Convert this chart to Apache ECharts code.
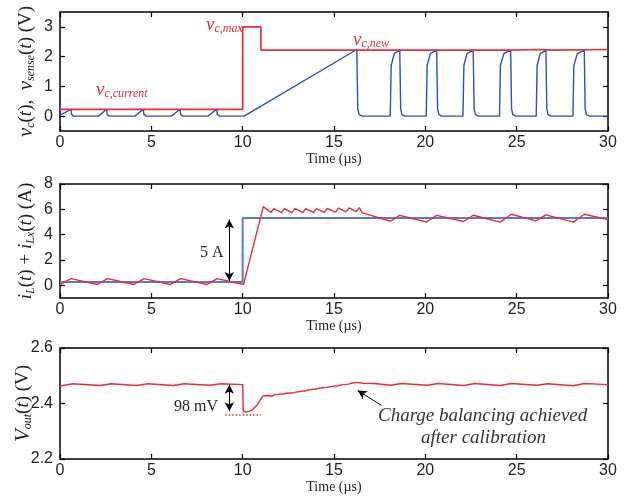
<!DOCTYPE html>
<html>
<head>
<meta charset="utf-8">
<script src="https://cdn.jsdelivr.net/npm/echarts@6/dist/echarts.min.js"></script>
<style>html,body{margin:0;padding:0;background:#fff;}#c{width:633px;height:500px;}</style>
</head>
<body>
<div id="c"></div>
<script>
// ---- data (time in µs) ----
const xTicks = [0, 5, 10, 15, 20, 25, 30];
const topYTicks = [0, 1, 2, 3];
const midYTicks = [0, 2, 4, 6, 8];
const botYTicks = [2.2, 2.4, 2.6];

const vcTime = [0, 10, 10, 11, 11, 24.5, 24.5, 26.3, 26.3, 27, 27, 30];
const vcVal  = [0.23, 0.23, 3.0, 3.0, 2.22, 2.22, 2.24, 2.24, 2.22, 2.22, 2.24, 2.24];

const vsTime = [0, 0.6, 0.63, 0.75, 2.1, 2.55, 2.58, 2.7, 4.1, 4.56, 4.59, 4.71, 6.1, 6.57, 6.6, 6.72, 8.1, 8.58, 8.61, 8.73, 10.08,
  16.25, 16.3, 16.38, 16.55,
  18.08, 18.13, 18.3, 18.6, 18.65, 18.72, 18.88,
  20.05, 20.1, 20.27, 20.62, 20.67, 20.74, 20.9,
  22.06, 22.11, 22.28, 22.62, 22.67, 22.74, 22.9,
  24.06, 24.11, 24.3, 24.67, 24.72, 24.79, 24.95,
  26.07, 26.12, 26.29, 26.6, 26.65, 26.72, 26.88,
  28.08, 28.13, 28.32, 28.7, 28.75, 28.82, 28.98, 30];
const vsVal = [0.03, 0.23, 0.06, 0, 0, 0.23, 0.06, 0, 0, 0.23, 0.06, 0, 0, 0.23, 0.06, 0, 0, 0.23, 0.06, 0, 0,
  2.24, 0.25, 0.05, 0,
  0, 1.7, 2.1, 2.22, 0.25, 0.05, 0,
  0, 1.7, 2.1, 2.22, 0.25, 0.05, 0,
  0, 1.7, 2.1, 2.22, 0.25, 0.05, 0,
  0, 1.7, 2.1, 2.22, 0.25, 0.05, 0,
  0, 1.7, 2.1, 2.22, 0.25, 0.05, 0,
  0, 1.7, 2.1, 2.22, 0.25, 0.05, 0, 0];

const iLTime = [0, 0.6, 2.05, 2.6, 4.05, 4.6, 6.05, 6.6, 8.05, 8.6, 10.05, 11.13,
  11.55, 11.7, 12.13, 12.28, 12.7, 12.86, 13.3, 13.45, 13.88, 14.03, 14.48, 14.63, 15.08, 15.24, 15.67, 15.82, 16.22, 16.38,
  16.55, 16.7, 18.1, 18.6, 20.07, 20.62, 22.1, 22.62, 24.1, 24.7, 26.05, 26.6, 28.1, 28.7, 30];
const iLVal = [0.05, 0.53, 0.07, 0.53, 0.07, 0.53, 0.07, 0.53, 0.07, 0.53, 0.07, 6.21,
  5.75, 6.05, 5.74, 6.05, 5.74, 6.05, 5.74, 6.05, 5.75, 6.05, 5.76, 6.07, 5.78, 6.1, 5.8, 6.12, 5.82, 6.13,
  5.72, 5.66, 5.06, 5.52, 5.0, 5.52, 5.04, 5.53, 4.99, 5.61, 5.09, 5.56, 4.99, 5.61, 5.19];

const iLxTime = [0, 10, 10, 30];
const iLxVal  = [0.27, 0.27, 5.31, 5.31];

const voTime = [0, 0.7, 2.2, 2.8, 4.2, 4.8, 6.2, 6.8, 8.2, 8.8, 10.0, 10.03, 10.2, 10.5, 10.8, 11.1,
  11.4, 11.6, 11.75, 12.2, 12.3, 12.4, 12.8, 12.9, 13.0, 13.4, 13.5, 13.6, 14.0, 14.1, 14.2, 14.6, 14.7, 14.8,
  15.2, 15.3, 15.4, 15.8, 15.9, 16.0, 16.3, 16.4, 16.6, 17.2, 18.1, 18.7, 20.1, 20.7, 22.1, 22.7, 24.1, 24.7,
  26.1, 26.7, 28.1, 28.7, 30];
const voVal = [2.463, 2.471, 2.465, 2.471, 2.465, 2.471, 2.465, 2.471, 2.466, 2.471, 2.468, 2.373, 2.369, 2.376, 2.395, 2.427,
  2.429, 2.426, 2.432, 2.434, 2.431, 2.437, 2.439, 2.436, 2.442, 2.445, 2.442, 2.449, 2.452, 2.449, 2.455, 2.458, 2.455, 2.461,
  2.464, 2.461, 2.467, 2.470, 2.468, 2.474, 2.476, 2.480, 2.473, 2.472, 2.466, 2.472, 2.466, 2.472, 2.465, 2.472, 2.465, 2.472,
  2.466, 2.471, 2.464, 2.472, 2.468];

// annotation anchors (data space)
const arrow5A = [[9.27, 0.35], [9.27, 5.2]];
const arrow98 = [[9.27, 2.372], [9.27, 2.468]];
const dotLine98 = [[9.04, 2.36], [11.0, 2.36]];
const arrowCB = [[17.6, 2.393], [16.3, 2.447]];

const zip = (a, b) => a.map((t, i) => [t, b[i]]);

const RED = '#ee2a33';
const BLUE = '#2f4fb2';
const BLUE2 = '#5b7bc4';
const SERIF = '"Liberation Serif", "Times New Roman", serif';
const SANS = '"Liberation Sans", Arial, sans-serif';

const grids = [
  {left: 60, right: 25, top: 12, height: 119, outerBoundsMode: 'none', containLabel: false},
  {left: 60, right: 25, top: 184, height: 114, outerBoundsMode: 'none', containLabel: false},
  {left: 60, right: 25, top: 348, height: 111, outerBoundsMode: 'none', containLabel: false}
];
const yRanges = [[-0.5, 3.5, topYTicks], [-1, 8, midYTicks], [2.2, 2.6, botYTicks]];
const yNameGaps = [23, 23, 26];

const richName = {
  v: {fontFamily: SERIF, fontStyle: 'italic', fontSize: 21, color: '#222', lineHeight: 22},
  i: {fontFamily: SERIF, fontStyle: 'italic', fontSize: 19, color: '#222', lineHeight: 22},
  n: {fontFamily: SERIF, fontSize: 19, color: '#222', lineHeight: 22},
  s: {fontFamily: SERIF, fontStyle: 'italic', fontSize: 12, color: '#222', lineHeight: 13, verticalAlign: 'bottom'}
};
const yNames = [
  '{v|v}{s|c}{n|(}{i|t}{n|),  }{v|v}{s|sense}{n|(}{i|t}{n|) (V)}',
  '{i|i}{s|L}{n|(}{i|t}{n|) + }{i|i}{s|Lx}{n|(}{i|t}{n|) (A)}',
  '{v|V}{s|out}{n|(}{i|t}{n|) (V)}'
];

const xAxes = [], yAxes = [];
grids.forEach((g, k) => {
  xAxes.push({
    type: 'value', gridIndex: k, position: 'bottom', min: 0, max: 30, interval: 5,
    axisLine: {show: true, onZero: false, lineStyle: {color: '#000', width: 1.5}},
    axisTick: {show: true, inside: true, length: 5, lineStyle: {color: '#000', width: 1.2}},
    axisLabel: {fontFamily: SANS, fontSize: 16, color: '#222', margin: 4},
    splitLine: {show: false},
    name: 'Time (µs)', nameLocation: 'middle', nameGap: 21, nameMoveOverlap: false,
    nameTextStyle: {fontFamily: SERIF, fontSize: 14, color: '#222'}
  });
  xAxes.push({
    type: 'value', gridIndex: k, position: 'top', min: 0, max: 30, interval: 5,
    axisLine: {show: true, onZero: false, lineStyle: {color: '#000', width: 1.5}},
    axisTick: {show: true, inside: true, length: 5, lineStyle: {color: '#000', width: 1.2}},
    axisLabel: {show: false}, splitLine: {show: false}
  });
  const [mn, mx, tk] = yRanges[k];
  yAxes.push({
    type: 'value', gridIndex: k, position: 'left', min: mn, max: mx,
    axisLine: {show: true, onZero: false, lineStyle: {color: '#000', width: 1.5}},
    axisTick: {show: true, inside: true, length: 5, customValues: tk, lineStyle: {color: '#000', width: 1.2}},
    axisLabel: {fontFamily: SANS, fontSize: 16, color: '#222', margin: 7, customValues: tk,
      formatter: v => (k === 2 ? v.toFixed(1) : String(v))},
    splitLine: {show: false},
    name: yNames[k], nameLocation: 'middle', nameRotate: 90, nameGap: yNameGaps[k], nameMoveOverlap: false,
    nameTextStyle: {rich: richName}
  });
  yAxes.push({
    type: 'value', gridIndex: k, position: 'right', min: mn, max: mx,
    axisLine: {show: true, onZero: false, lineStyle: {color: '#000', width: 1.5}},
    axisTick: {show: true, inside: true, length: 5, customValues: tk, lineStyle: {color: '#000', width: 1.2}},
    axisLabel: {show: false}, splitLine: {show: false}
  });
});

function line(data, color, k, width, extra) {
  return Object.assign({
    type: 'line', data: data, xAxisIndex: k * 2, yAxisIndex: k * 2,
    showSymbol: false, symbol: 'none', silent: true,
    lineStyle: {color: color, width: width}
  }, extra || {});
}
function arrowML(pts, both, color) {
  return {
    silent: true, animation: false,
    symbol: both ? ['arrow', 'arrow'] : ['none', 'arrow'],
    symbolSize: [7, 9],
    label: {show: false},
    itemStyle: {color: color || '#000'},
    lineStyle: {color: color || '#000', width: 1, type: 'solid'},
    data: [[{coord: pts[0]}, {coord: pts[1]}]]
  };
}
const plainML = (pts, color) => ({
  silent: true, animation: false, symbol: ['none', 'none'], label: {show: false},
  itemStyle: {color: color},
  lineStyle: {color: color, width: 1.5, type: [1.5, 2]},
  data: [[{coord: pts[0], lineStyle: {color: color}}, {coord: pts[1]}]]
});

const series = [
  line(zip(vsTime, vsVal), BLUE, 0, 1.4),
  line(zip(vcTime, vcVal), RED, 0, 1.7),
  line(zip(iLxTime, iLxVal), BLUE2, 1, 2),
  line(zip(iLTime, iLVal), RED, 1, 1.4, {markLine: arrowML(arrow5A, true)}),
  line(zip(voTime, voVal), RED, 2, 1.4, {markLine: arrowML(arrow98, true)}),
  line([], RED, 2, 1, {markLine: plainML(dotLine98, RED)}),
  line([], RED, 2, 1, {markLine: arrowML(arrowCB, false)})
];

const lbl = {
  v: {fontFamily: SERIF, fontStyle: 'italic', fontSize: 19, fill: RED, lineHeight: 20},
  s: {fontFamily: SERIF, fontStyle: 'italic', fontSize: 12, fill: RED, lineHeight: 12, verticalAlign: 'bottom'}
};
const graphic = [
  {type: 'text', left: 206, top: 15, style: {text: '{v|v}{s|c,max}', rich: lbl}},
  {type: 'text', left: 96, top: 80, style: {text: '{v|v}{s|c,current}', rich: lbl}},
  {type: 'text', left: 353, top: 30, style: {text: '{v|v}{s|c,new}', rich: lbl}},
  {type: 'text', left: 200, top: 245, style: {text: '5 A', font: '16px ' + SERIF, fill: '#222'}},
  {type: 'text', left: 174, top: 399, style: {text: '98 mV', font: '16px ' + SERIF, fill: '#222'}},
  {type: 'text', left: 378, top: 406, style: {text: 'Charge balancing achieved', font: 'italic 19px ' + SERIF, fill: '#333'}},
  {type: 'text', left: 421, top: 428, style: {text: 'after calibration', font: 'italic 19px ' + SERIF, fill: '#333'}}
];

const chart = echarts.init(document.getElementById('c'), null, {renderer: 'canvas'});
chart.setOption({
  animation: false,
  backgroundColor: '#fff',
  grid: grids,
  xAxis: xAxes,
  yAxis: yAxes,
  series: series,
  graphic: graphic
});
</script>
</body>
</html>
